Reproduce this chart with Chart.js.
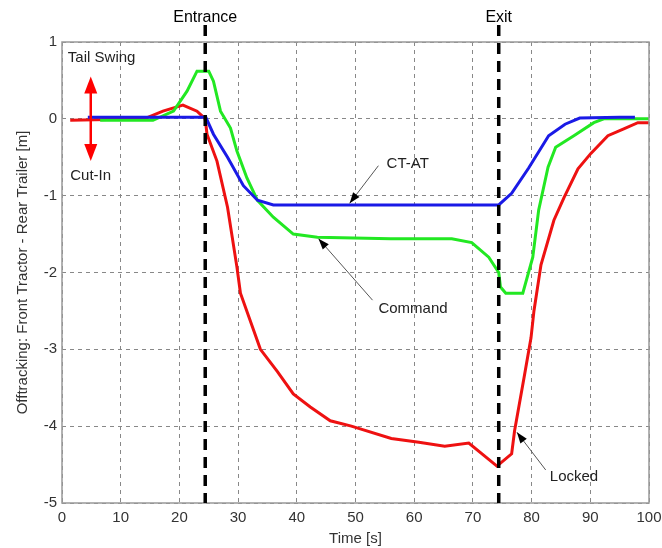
<!DOCTYPE html>
<html>
<head>
<meta charset="utf-8">
<script src="https://cdn.jsdelivr.net/npm/chart.js@4.4.0/dist/chart.umd.min.js"></script>
<style>
  html, body { margin: 0; padding: 0; background: #fff; }
  #wrap { width: 662px; height: 548px; position: relative; }
</style>
</head>
<body>
<div id="wrap"><canvas id="c"></canvas></div>
<script>
// 데이터
const timeCtat = [4.4, 10, 20, 24.5, 25.8, 28.2, 30.9, 33.3, 36, 50, 74.4, 76.6, 79.5, 82.9, 85.7, 88.2, 95, 97.6];
const ctatValues = [0.02, 0.02, 0.02, 0.02, -0.2, -0.5, -0.87, -1.06, -1.12, -1.12, -1.12, -0.97, -0.64, -0.22, -0.07, 0.01, 0.02, 0.02];

const timeCommand = [6.5, 15.5, 19, 21.3, 23, 25, 25.8, 27, 28.7, 29.8, 31.5, 33.3, 36, 39.4, 43.5, 56, 66.4, 69.8, 72.7, 74.4, 74.7, 75.6, 78.5, 80.2, 81.2, 82.8, 84.1, 87.2, 90.6, 92.3, 100];
const commandValues = [-0.02, -0.02, 0.1, 0.36, 0.62, 0.62, 0.49, 0.1, -0.12, -0.42, -0.77, -1.06, -1.28, -1.5, -1.54, -1.56, -1.56, -1.61, -1.8, -2.0, -2.19, -2.27, -2.27, -1.8, -1.19, -0.63, -0.37, -0.22, -0.05, 0, 0];

const timeLocked = [1.4, 14, 17.2, 20.6, 23, 24.4, 24.7, 26.4, 28.2, 29.8, 30.4, 33.8, 36.7, 39.4, 42.3, 45.7, 49.3, 56.1, 60.8, 65.2, 69.3, 74.1, 76.6, 77.1, 78.8, 79.9, 80.4, 81.6, 83.8, 85.5, 87.9, 90.1, 93, 95.7, 98.1, 100];
const lockedValues = [-0.02, 0, 0.1, 0.18, 0.1, 0, -0.2, -0.55, -1.15, -1.93, -2.27, -3.0, -3.29, -3.58, -3.75, -3.93, -4.0, -4.16, -4.21, -4.26, -4.22, -4.52, -4.36, -4.06, -3.33, -2.85, -2.5, -1.9, -1.32, -1.03, -0.65, -0.45, -0.22, -0.13, -0.05, -0.05];

const xTicks = [0, 10, 20, 30, 40, 50, 60, 70, 80, 90, 100];
const yTicks = [1, 0, -1, -2, -3, -4, -5];

const entranceTime = 24.4;
const exitTime = 74.4;

function toPoints(ts, vs) {
    let pts = [];
    for (let i = 0; i < ts.length; i++) {
        pts.push({ x: ts[i], y: vs[i] });
    }
    return pts;
}

const FONT = "'Liberation Sans', Arial, sans-serif";

// 화살표 그리기
function arrowHead(ctx, x1, y1, x2, y2, len, wid, color) {
    const a = Math.atan2(y2 - y1, x2 - x1);
    ctx.save();
    ctx.fillStyle = color;
    ctx.beginPath();
    ctx.moveTo(x2, y2);
    ctx.lineTo(x2 - len * Math.cos(a) + wid / 2 * Math.sin(a), y2 - len * Math.sin(a) - wid / 2 * Math.cos(a));
    ctx.lineTo(x2 - len * Math.cos(a) - wid / 2 * Math.sin(a), y2 - len * Math.sin(a) + wid / 2 * Math.cos(a));
    ctx.closePath();
    ctx.fill();
    ctx.restore();
}

const extras = {
    id: 'extras',
    afterDatasetsDraw(chart) {
        const ctx = chart.ctx;
        const xs = chart.scales.x, ys = chart.scales.y;
        const area = chart.chartArea;
        const px = v => xs.getPixelForValue(v);
        const py = v => ys.getPixelForValue(v);

        // 외곽선
        ctx.save();
        ctx.strokeStyle = '#999';
        ctx.lineWidth = 1.5;
        ctx.strokeRect(area.left, area.top, area.right - area.left, area.bottom - area.top);

        // 입구/출구 점선
        ctx.strokeStyle = '#000';
        ctx.lineWidth = 3.5;
        ctx.setLineDash([11, 7]);
        [entranceTime, exitTime].forEach(t => {
            ctx.beginPath();
            ctx.moveTo(px(t), area.top - 17);
            ctx.lineTo(px(t), area.bottom);
            ctx.stroke();
        });
        ctx.setLineDash([]);

        ctx.fillStyle = '#000';
        ctx.font = '16px ' + FONT;
        ctx.textAlign = 'center';
        ctx.textBaseline = 'middle';
        ctx.fillText('Entrance', px(entranceTime), 18);
        ctx.fillText('Exit', px(exitTime), 18);

        // 텍스트 주석
        ctx.fillStyle = '#222';
        ctx.font = '15px ' + FONT;
        ctx.textAlign = 'left';
        ctx.fillText('Tail Swing', px(1.0), py(0.79));
        ctx.fillText('Cut-In', px(1.4), py(-0.74));
        ctx.fillText('CT-AT', px(55.3), py(-0.58));
        ctx.fillText('Command', px(53.9), py(-2.47));
        ctx.fillText('Locked', px(83.1), py(-4.66));

        // 빨간 양방향 화살표
        const ax = px(4.9);
        const aTop = py(0.55), aBot = py(-0.55);
        ctx.strokeStyle = '#f00';
        ctx.lineWidth = 2.5;
        ctx.beginPath();
        ctx.moveTo(ax, aTop + 10);
        ctx.lineTo(ax, aBot - 10);
        ctx.stroke();
        arrowHead(ctx, ax, aBot, ax, aTop, 17, 13, '#f00');
        arrowHead(ctx, ax, aTop, ax, aBot, 17, 13, '#f00');

        // 지시선
        const pointers = [
            [53.9, -0.61, 49.0, -1.10],
            [52.9, -2.36, 43.7, -1.56],
            [82.4, -4.57, 77.5, -4.08]
        ];
        ctx.strokeStyle = '#555';
        ctx.lineWidth = 1;
        pointers.forEach(p => {
            const x1 = px(p[0]), y1 = py(p[1]), x2 = px(p[2]), y2 = py(p[3]);
            ctx.beginPath();
            ctx.moveTo(x1, y1);
            ctx.lineTo(x2, y2);
            ctx.stroke();
            arrowHead(ctx, x1, y1, x2, y2, 11, 8, '#000');
        });
        ctx.restore();
    }
};

new Chart(document.getElementById('c'), {
    type: 'line',
    data: {
        datasets: [
            {
                label: 'CT-AT',
                data: toPoints(timeCtat, ctatValues),
                borderColor: '#1a1ae6',
                borderWidth: 3,
                pointRadius: 0,
                order: 1
            },
            {
                label: 'Command',
                data: toPoints(timeCommand, commandValues),
                borderColor: '#22e822',
                borderWidth: 3,
                pointRadius: 0,
                order: 2
            },
            {
                label: 'Locked',
                data: toPoints(timeLocked, lockedValues),
                borderColor: '#ee1111',
                borderWidth: 3,
                pointRadius: 0,
                order: 3
            }
        ]
    },
    options: {
        responsive: true,
        maintainAspectRatio: false,
        animation: false,
        layout: { padding: { top: 42, right: 13, left: 0, bottom: 0 } },
        plugins: {
            legend: { display: false },
            tooltip: { enabled: false }
        },
        scales: {
            x: {
                type: 'linear',
                min: 0,
                max: 100,
                afterBuildTicks: s => { s.ticks = xTicks.map(v => ({ value: v })); },
                afterFit: s => { s.height = 45; s.paddingRight = 0; },
                grid: {
                    color: '#888',
                    lineWidth: 1,
                    drawTicks: false
                },
                border: { display: false, dash: [4, 4] },
                ticks: {
                    color: '#333',
                    font: { family: FONT, size: 15 },
                    padding: 6,
                    maxRotation: 0
                },
                title: {
                    display: true,
                    text: 'Time [s]',
                    color: '#333',
                    font: { family: FONT, size: 15 },
                    padding: { top: 0, bottom: 0 }
                }
            },
            y: {
                type: 'linear',
                min: -5,
                max: 1,
                afterBuildTicks: s => { s.ticks = yTicks.map(v => ({ value: v })); },
                afterFit: s => { s.width = 62; },
                grid: {
                    color: '#888',
                    lineWidth: 1,
                    drawTicks: false
                },
                border: { display: false, dash: [4, 4] },
                ticks: {
                    color: '#333',
                    font: { family: FONT, size: 15 },
                    padding: 5
                },
                title: {
                    display: true,
                    text: 'Offtracking: Front Tractor - Rear Trailer [m]',
                    color: '#333',
                    font: { family: FONT, size: 15 },
                    padding: { top: 14, bottom: 2 }
                }
            }
        }
    },
    plugins: [extras]
});
</script>
</body>
</html>
